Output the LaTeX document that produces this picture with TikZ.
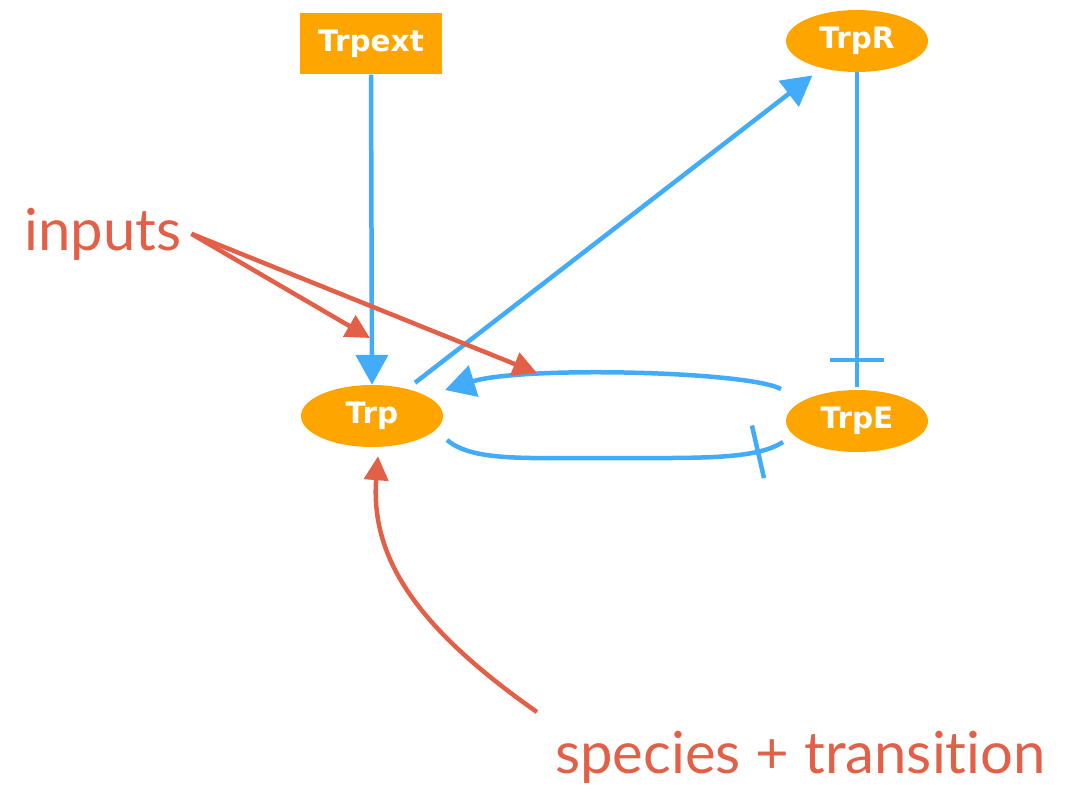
\documentclass[tikz,border=0pt]{standalone}
\usepackage{fontspec}
\setmainfont{Lato}[Ligatures=NoCommon]
\newfontfamily\nodefont{DejaVu Sans}
\usetikzlibrary{arrows.meta,shapes.geometric,calc,decorations.markings}
\definecolor{sorange}{RGB}{255,165,0}
\definecolor{sblue}{RGB}{66,171,250}
\definecolor{sred}{RGB}{227,96,72}
\begin{document}
\begin{tikzpicture}[x=1pt,y=-1pt,
  nodetext/.style={text=white,font=\nodefont\bfseries\fontsize{29.5}{32}\selectfont},
  spec/.style={ellipse,fill=sorange,minimum width=142pt,minimum height=62pt,inner sep=0pt,nodetext},
  inbox/.style={rectangle,fill=sorange,minimum width=142pt,minimum height=61pt,inner sep=0pt,nodetext},
  label/.style={text=sred,inner sep=0pt,font=\fontsize{58}{62}\selectfont},
  act/.style={draw=sblue,line width=4.5pt,-{Triangle[length=30pt,width=32pt]}},
  inh/.style={draw=sblue,line width=4.5pt,postaction={decorate},
    decoration={markings,mark=at position -27pt with {\draw[sblue,line width=4.5pt] (0,-27pt)--(0,27pt);}}},
  note/.style={draw=sred,line width=4.5pt,-{Triangle[length=24pt,width=24pt]}}]
\useasboundingbox (0,0) rectangle (1070,789);
\node[inbox] (Trpext) at (371,44) {Trpext};
\node[spec] (TrpR) at (857,41) {TrpR};
\node[spec] (Trp) at (372,416) {Trp};
\node[spec] (TrpE) at (857,421) {TrpE};
\node[label,anchor=base west] (inputs) at (24,250) {inputs};
\node[label,anchor=base west] (st) at (555,773) {species + transition};
\coordinate (in1) at (370,338);
\coordinate (in2) at (537,373);
\coordinate (st0) at (537,712);
% blue connectors
\draw[act] (Trpext.south) -- (Trp.north);
\draw[act,shorten <=10pt,shorten >=12pt] (Trp) -- (TrpR);
\draw[act] ($(TrpE)+(-76,-32)$) .. controls ($(TrpE)+(-110,-50)$) and ($(Trp)+(150,-50)$) .. ($(Trp)+(73,-26)$);
\draw[inh] ($(Trp)+(75,24)$) .. controls ($(Trp)+(100,45)$) and ($(Trp)+(150,42)$) .. (600,458) .. controls (700,458) and (755,460) .. ($(TrpE)+(-74,21)$);
\draw[inh] (TrpR.south) -- ($(TrpE.north)+(0,-3)$);
% red annotations
\draw[note] ($(inputs.east)+(10,0)$) -- (in1);
\draw[note] ($(inputs.east)+(10,0)$) -- (in2);
\draw[note] (st0) .. controls (420,630) and (370,560) .. ($(Trp.south)+(6,9)$);
\end{tikzpicture}
\end{document}
